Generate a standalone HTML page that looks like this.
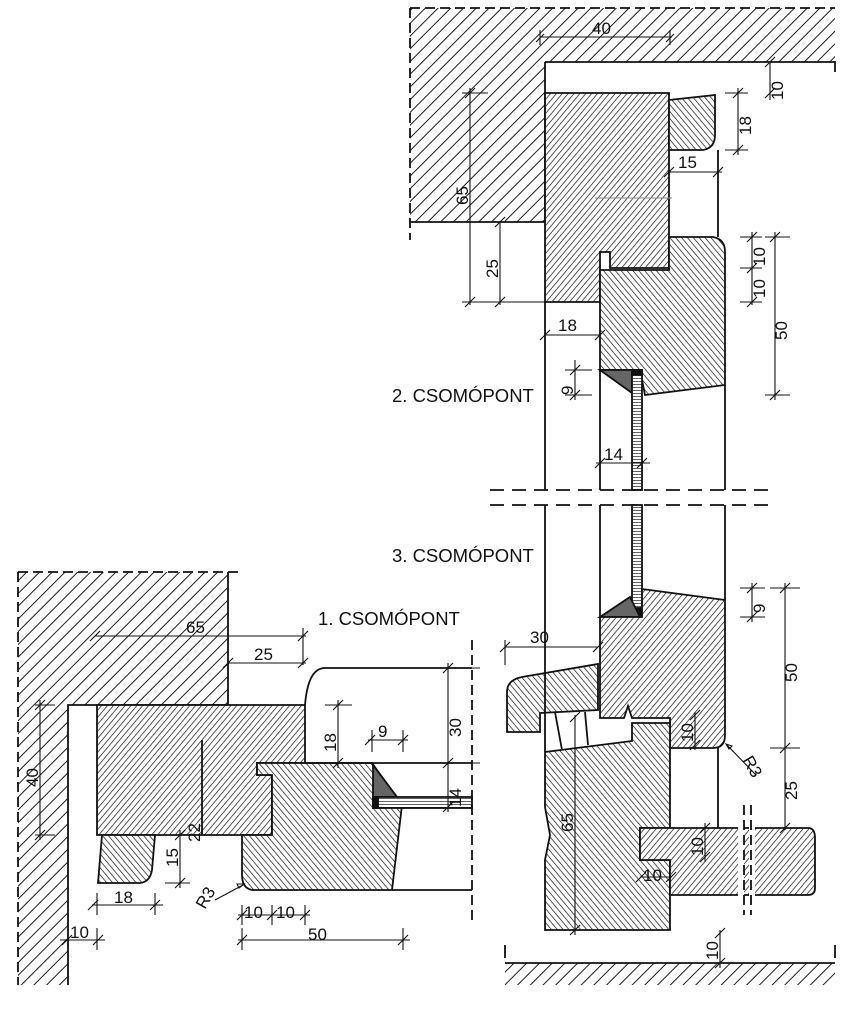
<!DOCTYPE html>
<html><head><meta charset="utf-8"><style>
html,body{margin:0;padding:0;background:#fff}
svg{display:block}
text{font-family:"Liberation Sans",sans-serif;fill:#111}
</style></head><body>
<svg width="842" height="1024" viewBox="0 0 842 1024" xmlns="http://www.w3.org/2000/svg">
<defs>
<pattern id="wall" width="9" height="9" patternUnits="userSpaceOnUse" patternTransform="rotate(45)">
<rect width="9" height="9" fill="#fff"/><line x1="0" y1="0" x2="0" y2="9" stroke="#111" stroke-width="1.9"/></pattern>
<pattern id="wA" width="4.5" height="4.5" patternUnits="userSpaceOnUse" patternTransform="rotate(40)">
<rect width="4.5" height="4.5" fill="#fff"/><line x1="0" y1="0" x2="0" y2="4.5" stroke="#111" stroke-width="1.4"/></pattern>
<pattern id="wB" width="4.5" height="4.5" patternUnits="userSpaceOnUse" patternTransform="rotate(-40)">
<rect width="4.5" height="4.5" fill="#fff"/><line x1="0" y1="0" x2="0" y2="4.5" stroke="#111" stroke-width="1.4"/></pattern>
<pattern id="rod" width="10" height="3" patternUnits="userSpaceOnUse">
<rect width="10" height="3" fill="#fff"/><line x1="0" y1="0" x2="10" y2="0" stroke="#222" stroke-width="1.4"/></pattern>
</defs>
<g stroke="#111" stroke-width="1.8" fill="none">
<!-- ===== TOP (2.) ===== -->
<path d="M410,8 H835 V62 H545 V222 H410 Z" fill="url(#wall)" stroke="none"/>
<path d="M545,222 H410 M545,62 V222 M545,62 H835 V72"/>
<path d="M410,8 V240 M410,8 H835" stroke-dasharray="10,5"/>
<path d="M545,93 H669 V268 H610 V252 H600 V302 H545 Z" fill="url(#wA)"/>
<path d="M669,100 L715,95 V135 Q715,148 703,150 H669 Z" fill="url(#wB)"/>
<path d="M600,270 H669 V237 H713 Q725,239 725,252 V385 L645,395 L640,370 H600 Z" fill="url(#wB)"/>
<path d="M600,370 H632 V393 Z" fill="#666"/>
<rect x="632" y="370" width="10" height="120" fill="url(#rod)"/>
<rect x="632" y="370" width="10" height="5" fill="#111"/>
<path d="M545,302 V490 M600,370 V490 M718,150 V237 M725,385 V490"/>
<path d="M490,490 H775 M490,505 H775" stroke-dasharray="14,8"/>
<g stroke-width="1.1">
<path d="M540,37 H672 M536,42 l8,-8 M666,42 l8,-8 M540,30 V45 M670,30 V45"/>
<path d="M770,62 V100 M765,67 l10,-10 M765,98 l10,-10 M760,62 H780"/>
<path d="M738,88 V155 M733,98 l10,-10 M733,155 l10,-10 M725,93 H748 M725,150 H748"/>
<path d="M669,172 H722 M664,177 l10,-10 M713,177 l10,-10"/>
<path d="M595,198 H672" stroke="#888"/>
<path d="M470,88 V305 M465,98 l10,-10 M465,307 l10,-10 M462,93 H488 M462,302 H545"/>
<path d="M500,222 V305 M495,227 l10,-10 M495,307 l10,-10"/>
<path d="M545,335 H600 M540,340 l10,-10 M595,340 l10,-10"/>
<path d="M752,232 V305 M747,242 l10,-10 M747,273 l10,-10 M747,307 l10,-10 M740,237 H762 M740,268 H762 M740,302 H762"/>
<path d="M775,232 V400 M770,242 l10,-10 M770,400 l10,-10 M765,237 H790 M765,395 H790"/>
<path d="M575,360 V400 M570,375 l10,-10 M570,400 l10,-10 M565,370 H592 M565,395 H592"/>
<path d="M596,463 H650 M595,468 l10,-10 M637,468 l10,-10"/>
</g>
<!-- ===== BOTTOM RIGHT (3.) ===== -->
<rect x="632" y="505" width="10" height="112" fill="url(#rod)"/>
<rect x="632" y="608" width="10" height="9" fill="#111"/>
<path d="M600,617 L630,597 L640,617 Z" fill="#666"/>
<path d="M600,617 H642 V589 L725,600 V735 Q725,748 713,748 H670 V718 H632 L628,706 L624,718 H600 Z" fill="url(#wA)"/>
<path d="M522,677 L598,664 V710 L540,713 V732 H507 V692 Q507,680 522,677 Z" fill="url(#wB)"/>
<path d="M545,752 L632,741 V723 H670 V828 H640 V860 H670 V930 H545 V860 L550,835 L545,807 Z" fill="url(#wB)"/>
<path d="M640,828 H808 Q815,828 815,838 V888 Q815,895 808,895 H670 V860 H640 Z" fill="url(#wA)"/>
<path d="M741,800 V920 M752,800 V920" stroke="#fff" stroke-width="6"/>
<path d="M744,805 V915 M751,805 V915" stroke-dasharray="10,5"/>
<path d="M545,505 V752 M600,505 V617 M725,505 V600 M718,748 V828 M555,712 L562,750 M585,712 L588,745"/>
<path d="M505,963 H835 V985 H505 Z" fill="url(#wall)" stroke="none"/>
<path d="M505,963 H835 M505,945 V958 M835,945 V958"/>
<g stroke-width="1.1">
<path d="M505,647 H598 M500,652 l10,-10 M593,652 l10,-10 M505,640 V665"/>
<path d="M752,583 V622 M747,593 l10,-10 M747,622 l10,-10 M740,588 H765 M740,617 H765"/>
<path d="M785,583 V830 M780,593 l10,-10 M780,753 l10,-10 M780,833 l10,-10 M770,588 H800 M770,748 H800 M775,828 H790"/>
<path d="M695,712 V750 M690,720 l10,-10 M690,750 l10,-10"/>
<path d="M705,823 V862 M700,833 l10,-10 M700,862 l10,-10"/>
<path d="M640,877 H672 M636,882 l10,-10 M666,882 l10,-10"/>
<path d="M575,715 V935 M570,722 l10,-10 M570,935 l10,-10"/>
<path d="M720,930 V968 M715,938 l10,-10 M715,968 l10,-10"/>
<path d="M756,775 L727,745 M726,744 l6,2 l-3,3 Z"/>
</g>
<!-- ===== BOTTOM LEFT (1.) ===== -->
<path d="M18,572 H228 V705 H68 V985 H18 Z" fill="url(#wall)" stroke="none"/>
<path d="M228,572 V705 H68 V985"/>
<path d="M18,572 H240 M18,572 V985" stroke-dasharray="10,5"/>
<path d="M97,705 H305 V763 H257 V775 H272 V835 H97 Z" fill="url(#wA)"/>
<path d="M257,763 H372 L402,805 L392,890 H252 Q242,888 242,875 V835 H272 V775 H257 Z" fill="url(#wB)"/>
<path d="M102,835 H155 L152,870 Q150,882 140,883 H98 Z" fill="url(#wB)"/>
<path d="M373,765 L397,797 H373 Z" fill="#666"/>
<rect x="373" y="797" width="99" height="11" fill="url(#rod)"/>
<rect x="373" y="797" width="5" height="11" fill="#111"/>
<path d="M305,705 Q308,668 325,668 H472 M305,763 H472 M392,890 H472 M202,740 V835"/>
<path d="M472,640 V925" stroke-dasharray="10,5"/>
<g stroke-width="1.1">
<path d="M95,636 H306 M90,641 l10,-10 M298,641 l10,-10 M303,628 V665"/>
<path d="M228,663 H306 M223,668 l10,-10 M298,668 l10,-10"/>
<path d="M40,700 V840 M35,710 l10,-10 M35,840 l10,-10 M35,705 H55 M35,835 H55"/>
<path d="M338,700 V768 M333,710 l10,-10 M333,768 l10,-10 M325,705 H352"/>
<path d="M368,740 H408 M365,745 l10,-10 M398,745 l10,-10 M372,730 V752 M403,730 V752"/>
<path d="M448,663 V812 M443,673 l10,-10 M443,768 l10,-10 M443,812 l10,-10 M440,668 H480 M440,763 H480"/>
<path d="M180,830 V888 M175,840 l10,-10 M175,888 l10,-10 M165,883 H190"/>
<path d="M92,905 H163 M88,910 l10,-10 M150,910 l10,-10 M97,893 V915 M155,893 V915"/>
<path d="M238,915 H310 M237,920 l10,-10 M267,920 l10,-10 M300,920 l10,-10 M242,905 V925 M272,905 V925 M305,905 V925"/>
<path d="M238,940 H410 M237,945 l10,-10 M398,945 l10,-10 M242,928 V950 M403,928 V950"/>
<path d="M60,940 H105 M62,945 l10,-10 M93,945 l10,-10 M97,928 V950"/>
<path d="M215,900 L243,885 M244,884 l-7,0 l2,4 Z"/>
</g>
</g>
<!-- labels -->
<g font-size="18.5">
<text x="392" y="402">2. CSOMÓPONT</text>
<text x="392" y="562">3. CSOMÓPONT</text>
<text x="318" y="625">1. CSOMÓPONT</text>
</g>
<g font-size="17">
<text x="592" y="34">40</text>
<text x="678" y="168">15</text>
<text x="558" y="331">18</text>
<text x="604" y="460">14</text>
<text x="530" y="643">30</text>
<text x="186" y="633">65</text>
<text x="254" y="660">25</text>
<text x="378" y="737">9</text>
<text x="114" y="903">18</text>
<text x="244" y="918">10</text>
<text x="276" y="918">10</text>
<text x="308" y="940">50</text>
<text x="70" y="938">10</text>
<text x="643" y="881">10</text>
<g transform="rotate(-90)">
<text x="-100" y="783">10</text>
<text x="-135" y="751">18</text>
<text x="-205" y="468">65</text>
<text x="-278" y="498">25</text>
<text x="-266" y="765">10</text>
<text x="-298" y="765">10</text>
<text x="-340" y="787">50</text>
<text x="-395" y="573">9</text>
<text x="-613" y="765">9</text>
<text x="-682" y="797">50</text>
<text x="-800" y="797">25</text>
<text x="-742" y="693">10</text>
<text x="-856" y="703">10</text>
<text x="-832" y="573">65</text>
<text x="-960" y="718">10</text>
<text x="-787" y="38">40</text>
<text x="-752" y="336">18</text>
<text x="-737" y="461">30</text>
<text x="-807" y="461">14</text>
<text x="-867" y="178">15</text>
<text x="-842" y="200" fill="#777">22</text>
</g>
<text x="742" y="760" transform="rotate(60 742 760)">R3</text>
<text x="205" y="910" transform="rotate(-60 205 910)">R3</text>
</g>
</svg>
</body></html>
